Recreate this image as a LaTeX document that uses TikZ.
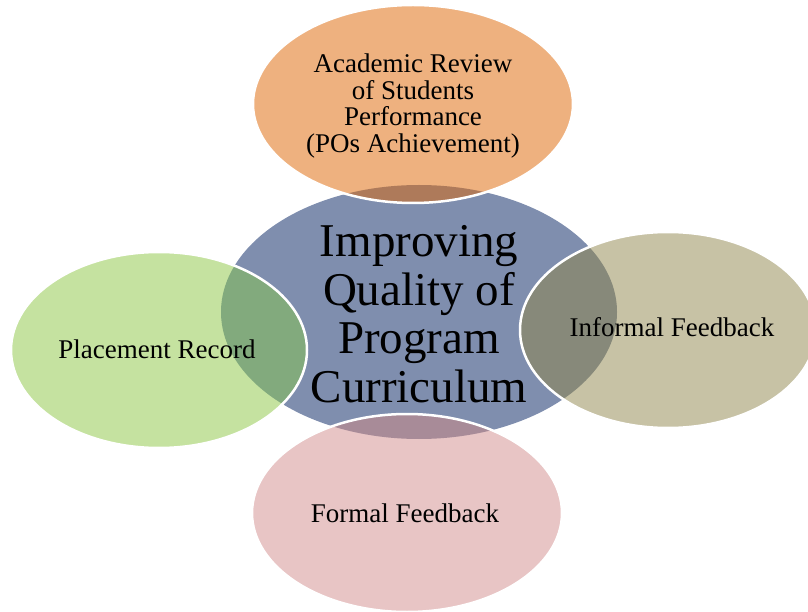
\documentclass[tikz,border=0pt]{standalone}
\usepackage{fontspec}
\setmainfont{Liberation Serif}
\usepackage{xcolor}
\usepackage{tikz}
\definecolor{hubblue}{RGB}{127,142,174}
\definecolor{toporange}{RGB}{238,177,127}
\definecolor{topdark}{RGB}{174,122,90}
\definecolor{leftgreen}{RGB}{197,226,160}
\definecolor{leftdark}{RGB}{130,170,125}
\definecolor{righttan}{RGB}{199,194,165}
\definecolor{rightdark}{RGB}{135,137,122}
\definecolor{botpink}{RGB}{232,197,197}
\definecolor{botdark}{RGB}{168,139,152}
\tikzset{
  rim/.style={draw=white,line width=2.5pt},
  hubtxt/.style={font=\fontsize{47}{48.5}\selectfont,align=center,inner sep=0pt},
  petaltxt/.style={font=\fontsize{27}{26.7}\selectfont,align=center,inner sep=0pt},
}

\begin{document}
\begin{tikzpicture}[x=1pt,y=1pt]
        \useasboundingbox (0,0) rectangle (808,611);
        % centre ellipse
        \fill[hubblue] (419,299) ellipse [x radius=198,y radius=127];
        % top
        \fill[toporange] (413,507) ellipse [x radius=160,y radius=99];
        \begin{scope}
          \clip (419,299) ellipse [x radius=198,y radius=127];
          \fill[topdark] (413,507) ellipse [x radius=160,y radius=99];
        \end{scope}
        \draw[rim] (413,507) ellipse [x radius=160,y radius=99];
        % left
        \fill[leftgreen] (159,261) ellipse [x radius=148,y radius=98];
        \begin{scope}
          \clip (419,299) ellipse [x radius=198,y radius=127];
          \fill[leftdark] (159,261) ellipse [x radius=148,y radius=98];
        \end{scope}
        \draw[rim] (159,261) ellipse [x radius=148,y radius=98];
        % right
        \fill[righttan] (668,281) ellipse [x radius=148,y radius=98];
        \begin{scope}
          \clip (419,299) ellipse [x radius=198,y radius=127];
          \fill[rightdark] (668,281) ellipse [x radius=148,y radius=98];
        \end{scope}
        \draw[rim] (668,281) ellipse [x radius=148,y radius=98];
        % bottom
        \fill[botpink] (407,98) ellipse [x radius=155,y radius=99];
        \begin{scope}
          \clip (419,299) ellipse [x radius=198,y radius=127];
          \fill[botdark] (407,98) ellipse [x radius=155,y radius=99];
        \end{scope}
        \draw[rim] (407,98) ellipse [x radius=155,y radius=99];
        % labels
        \node[hubtxt] (hub) at (419,297) {Improving\\Quality of\\Program\\Curriculum};
        \node[petaltxt] (review) at (413,505) {Academic Review\\of Students\\Performance\\(POs Achievement)};
        \node[petaltxt,anchor=base] (placement) at (157,253) {Placement Record};
        \node[petaltxt,anchor=base] (informal) at (672,274) {Informal Feedback};
        \node[petaltxt,anchor=base] (formal) at (405,89) {Formal Feedback};
      \end{tikzpicture}
\end{document}
